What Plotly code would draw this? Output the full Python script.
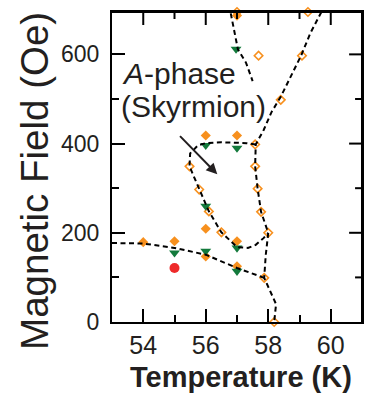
import plotly.graph_objects as go

# ---- data (Temperature K, Magnetic Field Oe) ----
open_T = [57.0, 59.27, 57.69, 59.08, 58.4, 57.58, 55.48, 57.58, 55.79, 57.66, 56.1, 57.77, 56.5, 58.0, 57.87, 58.19]
open_H = [695, 695, 597, 597, 498, 398, 349, 349, 297, 299, 248, 247, 201, 200, 99, 0]

orange_T = [54, 55, 56, 57, 56, 57, 56, 57, 57]
orange_H = [179, 181, 418, 418, 209, 181, 147, 125, 687]

green_T = [56, 57, 56, 55, 56, 57, 57, 56.97]
green_H = [396, 390, 260, 155, 159, 166, 114, 612]

red_T = [55]
red_H = [121]

# phase boundaries (dashed)
lowleft_T = [53.0, 54.0, 55.0, 56.0, 57.0, 57.87]
lowleft_H = [177, 176, 166, 151, 121, 99]

right_T = [59.7, 59.35, 59.05, 58.75, 58.4, 58.1, 57.85, 57.6, 57.58, 57.66, 57.77, 58.0, 57.92, 57.87, 58.25, 58.19]
right_H = [695, 648, 597, 555, 505, 470, 430, 398, 349, 299, 247, 200, 150, 99, 40, 0]

pocket_T = [57.6, 57.3, 56.5, 56.0, 55.75, 55.5, 55.48, 55.79, 56.1, 56.5, 57.0, 57.35, 57.6, 57.85, 58.0]
pocket_H = [398, 401, 403, 401, 396, 378, 349, 297, 248, 201, 168, 166, 173, 188, 200]

upper_T = [56.8, 57.03, 57.29, 57.5]
upper_H = [692, 611, 581, 540]

x_ticks = [54, 56, 58, 60]
y_ticks = [0, 200, 400, 600]
x_range = [53, 61]
y_range = [0, 695]

TXT = "#231F20"
ORANGE = "#F7901E"
GREEN = "#137A3C"
RED = "#EE2A2A"
FONT = "Liberation Sans, Arial, sans-serif"

W, H = 370, 396
M = dict(l=112, r=6, t=12, b=74)

fig = go.Figure()
fig.add_trace(go.Scatter(x=open_T, y=open_H, mode="markers", cliponaxis=False,
                         marker=dict(symbol="diamond-open", size=6.5, color=ORANGE, line=dict(width=1.6, color=ORANGE))))
fig.add_trace(go.Scatter(x=orange_T, y=orange_H, mode="markers", cliponaxis=False,
                         marker=dict(symbol="diamond", size=7.8, color=ORANGE, line=dict(width=0))))
fig.add_trace(go.Scatter(x=green_T, y=green_H, mode="markers", cliponaxis=False,
                         marker=dict(symbol="triangle-down", size=9.5, color=GREEN, line=dict(width=0))))
fig.add_trace(go.Scatter(x=red_T, y=red_H, mode="markers",
                         marker=dict(symbol="circle", size=10, color=RED, line=dict(width=0))))
for tx, hy in [(lowleft_T, lowleft_H), (right_T, right_H), (pocket_T, pocket_H), (upper_T, upper_H)]:
    fig.add_trace(go.Scatter(x=tx, y=hy, mode="lines", line=dict(color="black", width=2, dash="5px,3.5px")))

# ---- mirrored frame (top and right) with inside ticks, derived from the axis ranges/ticks ----
px_per_x = (W - M["l"] - M["r"]) / (x_range[1] - x_range[0])
px_per_y = (H - M["t"] - M["b"]) / (y_range[1] - y_range[0])
x_minor = [v + 1 for v in x_ticks[:-1]]
y_minor = [v + 100 for v in y_ticks]

frame_shapes = [
    dict(type="line", xref="x", yref="y", x0=x_range[0], x1=x_range[1], y0=y_range[1], y1=y_range[1],
         line=dict(color="black", width=2), layer="above"),
    dict(type="line", xref="x", yref="y", x0=x_range[1], x1=x_range[1], y0=y_range[0], y1=y_range[1],
         line=dict(color="black", width=2), layer="above"),
]
for v in x_ticks + x_minor:
    ln = (13 if v in x_ticks else 7) / px_per_y
    frame_shapes.append(dict(type="line", xref="x", yref="y", x0=v, x1=v, y0=y_range[1], y1=y_range[1] - ln,
                             line=dict(color="black", width=2), layer="above"))
for v in y_ticks[1:] + y_minor:
    ln = (13 if v in y_ticks else 7) / px_per_x
    frame_shapes.append(dict(type="line", xref="x", yref="y", x0=x_range[1], x1=x_range[1] - ln, y0=v, y1=v,
                             line=dict(color="black", width=2), layer="above"))

tick_common = dict(showline=True, linecolor="black", linewidth=2, mirror=True,
                   ticks="inside", tickwidth=2, ticklen=13, tickcolor="black",
                   showgrid=False, zeroline=False)
xminor = dict(dtick=1, tick0=53, ticks="inside", ticklen=7, tickwidth=2, tickcolor="black", showgrid=False)
yminor = dict(dtick=100, tick0=0, ticks="inside", ticklen=7, tickwidth=2, tickcolor="black", showgrid=False)

fig.update_layout(
    xaxis=dict(range=x_range, tickvals=x_ticks, ticktext=[str(v) for v in x_ticks], minor=xminor,
               ticklabelstandoff=0, tickfont=dict(family=FONT, color=TXT, size=25), **tick_common),
    yaxis=dict(range=y_range, tickvals=y_ticks, ticktext=[str(v) for v in y_ticks], minor=yminor,
               ticklabelstandoff=6, tickfont=dict(family=FONT, color=TXT, size=23), **tick_common),
)

annos = [
    dict(text="<i>A</i>-phase", x=53.27, y=557, xref="x", yref="y", xanchor="left", yanchor="middle",
         showarrow=False, font=dict(family=FONT, size=30, color=TXT)),
    dict(text="(Skyrmion)", x=53.22, y=484, xref="x", yref="y", xanchor="left", yanchor="middle",
         showarrow=False, font=dict(family=FONT, size=30, color=TXT)),
    dict(text="", x=56.37, y=331, ax=55.13, ay=420, xref="x", yref="y", axref="x", ayref="y",
         showarrow=True, arrowhead=2, arrowsize=1.1, arrowwidth=2, arrowcolor=TXT, standoff=0),
    dict(text="Magnetic Field (Oe)", x=-0.311, y=0.456, xref="paper", yref="paper", textangle=-90,
         xanchor="center", yanchor="middle", showarrow=False, font=dict(family=FONT, size=38.5, color=TXT)),
    dict(text="<b>Temperature (K)</b>", x=0.514, y=-0.176, xref="paper", yref="paper",
         xanchor="center", yanchor="middle", showarrow=False, font=dict(family=FONT, size=29, color=TXT)),
]

fig.update_layout(width=W, height=H, margin=M,
                  paper_bgcolor="white", plot_bgcolor="white", showlegend=False,
                  annotations=annos, shapes=frame_shapes)

fig.write_html("out.html", config={"displayModeBar": False},
               post_script="document.body.style.margin='0';")
